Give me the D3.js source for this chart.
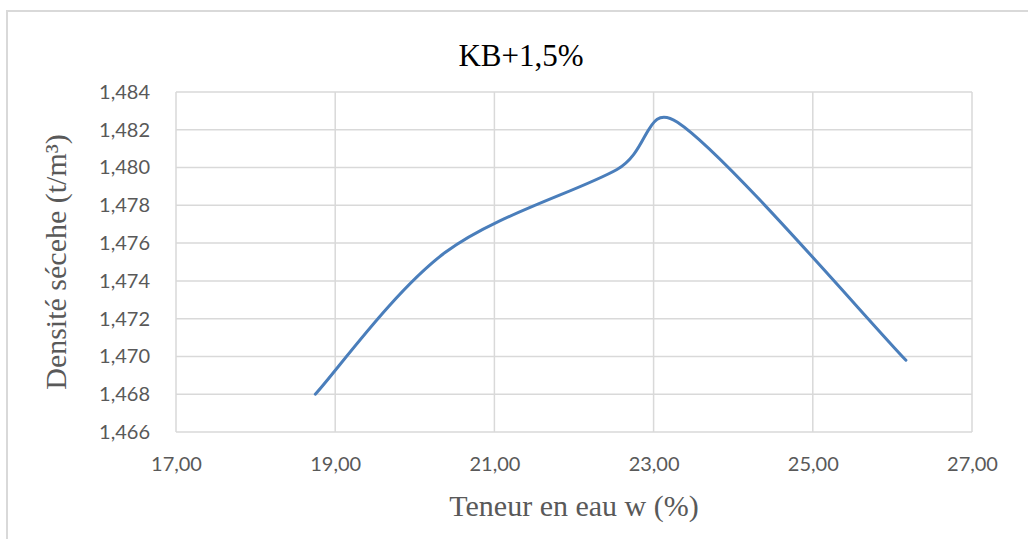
<!DOCTYPE html>
<html>
<head>
<meta charset="utf-8">
<script src="https://cdn.jsdelivr.net/npm/d3@7"></script>
<style>
  body { margin: 0; background: #fff; }
  svg { display: block; }
</style>
</head>
<body>
<svg id="chart" width="1028" height="539"></svg>
<script>
// data
const water = [18.75, 20.38, 22.54, 23.3, 26.17];
const density = [1.468, 1.4755, 1.4799, 1.4824, 1.4698];
const xTicks = [17, 19, 21, 23, 25, 27];
const yTicks = [1.466, 1.468, 1.47, 1.472, 1.474, 1.476, 1.478, 1.48, 1.482, 1.484];

const title = "KB+1,5%";
const xTitle = "Teneur en eau w (%)";
const yTitle = "Densité sécehe (t/m³)";

const svg = d3.select("#chart");

// chart area border (runs off the right and bottom of the picture)
svg.append("rect")
  .attr("x", 7).attr("y", 11)
  .attr("width", 1100).attr("height", 600)
  .attr("fill", "#fff")
  .attr("stroke", "#d9d9d9")
  .attr("stroke-width", 2);

const plot = { left: 176, right: 972, top: 92, bottom: 432 };

const x = d3.scaleLinear().domain([17, 27]).range([plot.left, plot.right]);
const y = d3.scaleLinear().domain([1.466, 1.484]).range([plot.bottom, plot.top]);

const fmtX = d => d.toFixed(2).replace(".", ",");
const fmtY = d => d.toFixed(3).replace(".", ",");

// gridlines
svg.append("g")
  .selectAll("line")
  .data(yTicks)
  .join("line")
  .attr("x1", plot.left).attr("x2", plot.right)
  .attr("y1", d => y(d)).attr("y2", d => y(d))
  .attr("stroke", "#d9d9d9")
  .attr("stroke-width", 1.5);

svg.append("g")
  .selectAll("line")
  .data(xTicks)
  .join("line")
  .attr("x1", d => x(d)).attr("x2", d => x(d))
  .attr("y1", plot.top).attr("y2", plot.bottom)
  .attr("stroke", "#d9d9d9")
  .attr("stroke-width", 1.5);

// axes (labels only, Excel style)
const xAxis = svg.append("g")
  .attr("transform", `translate(0,${plot.bottom})`)
  .call(d3.axisBottom(x).tickValues(xTicks).tickFormat(fmtX).tickSize(0).tickPadding(25));
const yAxis = svg.append("g")
  .attr("transform", `translate(${plot.left},0)`)
  .call(d3.axisLeft(y).tickValues(yTicks).tickFormat(fmtY).tickSize(0).tickPadding(26));

[xAxis, yAxis].forEach(a => {
  a.select(".domain").remove();
  a.selectAll("text")
    .attr("fill", "#595959")
    .style("font-family", "Lato, 'Open Sans', sans-serif")
    .style("font-size", "20px");
});

// Excel-like smoothed line: cardinal spline with control arms capped at half the segment
function excelSmooth(context) {
  let pts = [];
  return {
    areaStart() {},
    areaEnd() {},
    lineStart() { pts = []; },
    point(px, py) { pts.push([+px, +py]); },
    lineEnd() {
      if (!pts.length) return;
      context.moveTo(pts[0][0], pts[0][1]);
      for (let i = 0; i < pts.length - 1; i++) {
        const p0 = pts[i - 1] || pts[i];
        const p1 = pts[i];
        const p2 = pts[i + 1];
        const p3 = pts[i + 2] || pts[i + 1];
        const seg = Math.hypot(p2[0] - p1[0], p2[1] - p1[1]);
        const arm = (a, b) => {
          let vx = (b[0] - a[0]) / 6, vy = (b[1] - a[1]) / 6;
          const len = Math.hypot(vx, vy);
          if (len > seg / 2) { vx *= seg / 2 / len; vy *= seg / 2 / len; }
          return [vx, vy];
        };
        const v1 = arm(p0, p2);
        const v2 = arm(p1, p3);
        context.bezierCurveTo(p1[0] + v1[0], p1[1] + v1[1], p2[0] - v2[0], p2[1] - v2[1], p2[0], p2[1]);
      }
    }
  };
}

const line = d3.line()
  .x((d, i) => x(water[i]))
  .y(d => y(d))
  .curve(excelSmooth);

svg.append("path")
  .datum(density)
  .attr("d", line)
  .attr("fill", "none")
  .attr("stroke", "#4a7ebb")
  .attr("stroke-width", 3)
  .attr("stroke-linecap", "round");

// titles
svg.append("text")
  .attr("x", 521).attr("y", 66)
  .attr("text-anchor", "middle")
  .attr("fill", "#000")
  .style("font-family", "'Liberation Serif', 'Times New Roman', serif")
  .style("font-size", "31px")
  .text(title);

svg.append("text")
  .attr("x", (plot.left + plot.right) / 2).attr("y", 516)
  .attr("text-anchor", "middle")
  .attr("fill", "#595959")
  .style("font-family", "'Liberation Serif', 'Times New Roman', serif")
  .style("font-size", "30px")
  .text(xTitle);

svg.append("text")
  .attr("transform", `translate(66,${(plot.top + plot.bottom) / 2}) rotate(-90)`)
  .attr("text-anchor", "middle")
  .attr("fill", "#595959")
  .style("font-family", "'Liberation Serif', 'Times New Roman', serif")
  .style("font-size", "30px")
  .text(yTitle);
</script>
</body>
</html>
